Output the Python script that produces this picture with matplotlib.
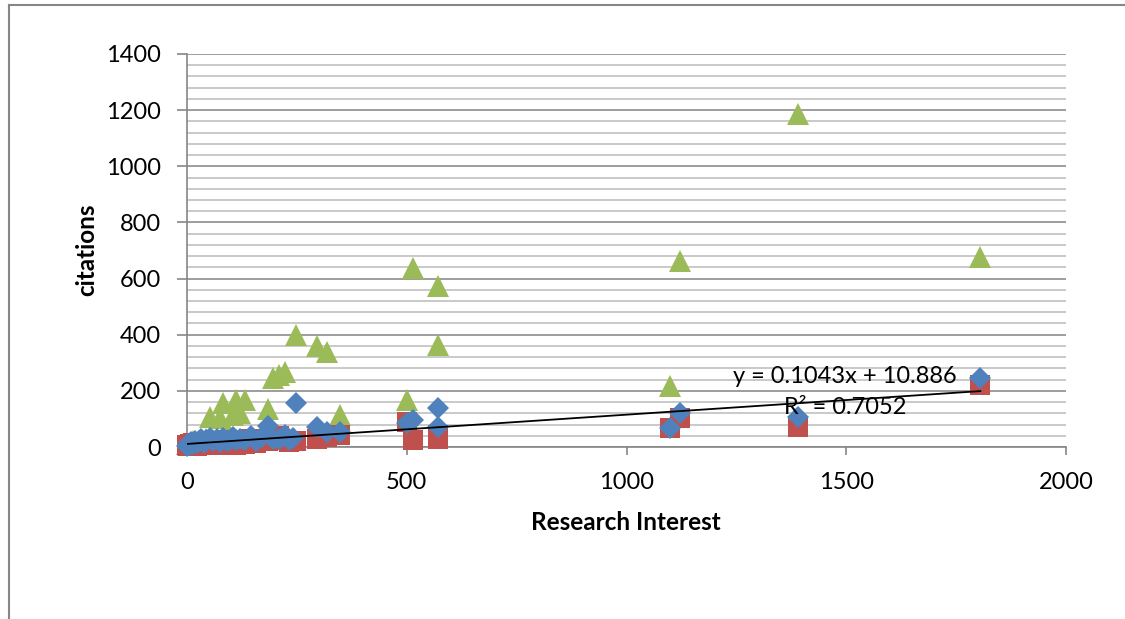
import numpy as np
import matplotlib
matplotlib.use("Agg")
import matplotlib.pyplot as plt
from matplotlib.lines import Line2D

plt.rcParams['font.family'] = ['Lato', 'DejaVu Sans']

# Research interest (shared x values for all three series)
research_interest = [0, 3, 6, 10, 14, 18, 22, 27, 32, 38,
                     44, 52, 60, 68, 75, 82, 90, 98, 104, 112,
                     121, 132, 145, 158, 170, 184, 196, 209, 223, 232,
                     241, 248, 295, 318, 348, 500, 514, 571, 572, 1100,
                     1122, 1390, 1805]

blue_vals = [5, 12, 8, 18, 10, 22, 14, 20, 28, 15,
             24, 32, 20, 30, 18, 32, 22, 26, 36, 24,
             30, 26, 38, 22, 34, 75, 30, 28, 42, 25,
             32, 157, 72, 55, 55, 85, 95, 72, 139, 68,
             121, 106, 245]

red_vals = [8, 4, 12, 6, 15, 10, 5, 14, 8, 18,
            10, 6, 20, 12, 8, 15, 25, 10, 18, 8,
            22, 12, 28, 15, 30, 22, 35, 40, 25, 18,
            20, 20, 30, 35, 43, 90, 25, 30, 43, 68,
            103, 72, 221]

green_vals = [10, 6, 15, 8, 20, 12, 10, 18, 22, 15,
              30, 107, 25, 20, 103, 157, 35, 40, 114, 167,
              121, 167, 30, 25, 40, 135, 246, 256, 267, 30,
              25, 399, 360, 338, 114, 166, 636, 363, 572, 217,
              661, 1188, 677]

# Linear trendline of the blue series
trend_slope = 0.1043
trend_intercept = 10.886
trend_r2 = 0.7052

y_ticks = [0, 200, 400, 600, 800, 1000, 1200, 1400]
x_ticks = [0, 500, 1000, 1500, 2000]

BLUE = '#4F81BD'
RED = '#C0504D'
GREEN = '#9BBB59'
AXIS_GRAY = '#868686'

W, H = 1125, 619
fig = plt.figure(figsize=(W / 100, H / 100), dpi=100)
ax = fig.add_axes([187 / W, 172 / H, (1066 - 187) / W, (447 - 54) / H])

x = np.array(research_interest, dtype=float)
ax.plot(x, green_vals, linestyle='none', marker='^', ms=16, mew=0,
        color=GREEN, zorder=3, clip_on=False)
ax.plot(x, red_vals, linestyle='none', marker='s', ms=14, mew=0,
        color=RED, zorder=4, clip_on=False)
ax.plot(x, blue_vals, linestyle='none', marker='D', ms=10.8, mew=0,
        color=BLUE, zorder=5, clip_on=False)

tx = np.array([min(research_interest), max(research_interest)], dtype=float)
ax.plot(tx, trend_slope * tx + trend_intercept, color='black', lw=1.3, zorder=6)

ax.text(1498, 250, f'y = {trend_slope}x + {trend_intercept}', fontsize=17,
        ha='center', va='center', zorder=7)
ax.text(1498, 139, f'R² = {trend_r2}', fontsize=17,
        ha='center', va='center', zorder=7)

ax.set_xlim(0, 2000)
ax.set_ylim(0, 1400)
ax.set_xticks(x_ticks)
ax.set_yticks(y_ticks)
ax.set_yticks(np.arange(0, 1401, 40), minor=True)

ax.yaxis.grid(True, which='major', color='#8c8c8c', lw=1.2, zorder=0)
ax.yaxis.grid(True, which='minor', color='#c0c0c0', lw=1.2, zorder=0)
ax.set_axisbelow(True)

for side in ('top', 'right'):
    ax.spines[side].set_visible(False)
for side in ('left', 'bottom'):
    ax.spines[side].set_color(AXIS_GRAY)
    ax.spines[side].set_linewidth(1.2)

ax.tick_params(axis='y', which='major', length=7, width=1.2, color=AXIS_GRAY,
               labelsize=17, pad=12)
ax.tick_params(axis='x', which='major', length=6, width=1.2, color=AXIS_GRAY,
               labelsize=17, pad=12)
ax.tick_params(which='minor', length=0)

fig.text(626 / W, 1 - 522 / H, 'Research Interest', fontsize=17.5,
         fontweight='bold', ha='center', va='center')
fig.text(87 / W, 1 - 250 / H, 'citations', fontsize=17.5, fontweight='bold',
         rotation=90, ha='center', va='center')

# Outer chart frame (top and left edges)
fig.add_artist(Line2D([8.5 / W, 1], [1 - 5 / H, 1 - 5 / H], color=AXIS_GRAY,
                      lw=1.5, transform=fig.transFigure))
fig.add_artist(Line2D([8.5 / W, 8.5 / W], [0, 1 - 5 / H], color=AXIS_GRAY,
                      lw=1.5, transform=fig.transFigure))

fig.savefig('out.png', dpi=100, facecolor='white')
